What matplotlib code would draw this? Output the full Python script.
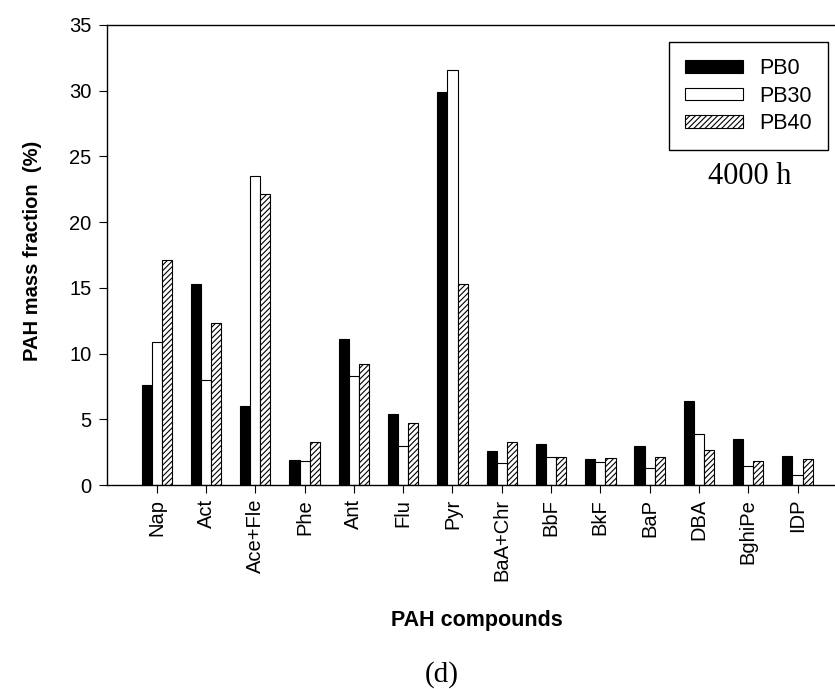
import matplotlib.pyplot as plt
import numpy as np

compounds = ['Nap', 'Act', 'Ace+Fle', 'Phe', 'Ant', 'Flu', 'Pyr', 'BaA+Chr',
             'BbF', 'BkF', 'BaP', 'DBA', 'BghiPe', 'IDP']
pb0 = [7.6, 15.3, 6.0, 1.9, 11.1, 5.4, 29.9, 2.6, 3.1, 2.0, 3.0, 6.4, 3.5, 2.2]
pb30 = [10.9, 8.0, 23.5, 1.85, 8.3, 3.0, 31.6, 1.7, 2.15, 1.75, 1.3, 3.9, 1.45, 0.75]
pb40 = [17.1, 12.3, 22.1, 3.3, 9.2, 4.7, 15.3, 3.3, 2.15, 2.05, 2.1, 2.65, 1.8, 2.0]

plt.rcParams['font.family'] = ['Liberation Sans', 'DejaVu Sans']
plt.rcParams['hatch.linewidth'] = 0.8

fig = plt.figure(figsize=(8.35, 6.89), dpi=100)
ax = fig.add_axes([0.128, 0.296, 0.872, 0.668])

x = np.arange(len(compounds))
w = 0.205
ax.bar(x - w, pb0, w, color='black', edgecolor='black', linewidth=0.8, label='PB0')
ax.bar(x, pb30, w, color='white', edgecolor='black', linewidth=0.8, label='PB30')
ax.bar(x + w, pb40, w, color='white', edgecolor='black', linewidth=0.8,
       hatch='//////', label='PB40')

ax.set_xlim(-1.01, 13.76)
ax.set_ylim(0, 35)
ax.set_yticks(range(0, 36, 5))
ax.set_xticks(x)
ax.set_xticklabels(compounds, rotation=90, fontsize=14.5)
ax.tick_params(axis='y', labelsize=14.5, direction='out', length=6, pad=5)
ax.tick_params(axis='x', direction='out', length=6, pad=4)
ax.spines['right'].set_visible(False)
for s in ax.spines.values():
    s.set_linewidth(1.0)

ax.set_ylabel('PAH mass fraction  (%)', fontsize=14.5, fontweight='bold')
ax.yaxis.set_label_coords(-0.102, 0.509)
ax.yaxis.label.set_va('center')
ax.set_xlabel('PAH compounds', fontsize=15.5, fontweight='bold')
ax.xaxis.set_label_coords(0.508, -0.294)
ax.xaxis.label.set_va('center')

leg = ax.legend(loc='upper right', bbox_to_anchor=(828 / 835, 1 - 42 / 689),
                bbox_transform=fig.transFigure, borderaxespad=0, fontsize=15.5,
                handlelength=2.7, handleheight=0.55, handletextpad=0.75,
                fancybox=False, edgecolor='black', framealpha=1,
                borderpad=0.75, labelspacing=0.3)
leg.get_frame().set_linewidth(1.0)

fig.text(750 / 835, 1 - 177 / 689, '4000 h', family='Liberation Serif', fontsize=22,
         ha='center', va='center')
fig.text(442 / 835, 1 - 675 / 689, '(d)', family='Liberation Serif', fontsize=21,
         ha='center', va='center')

fig.savefig('out.png', dpi=100)
